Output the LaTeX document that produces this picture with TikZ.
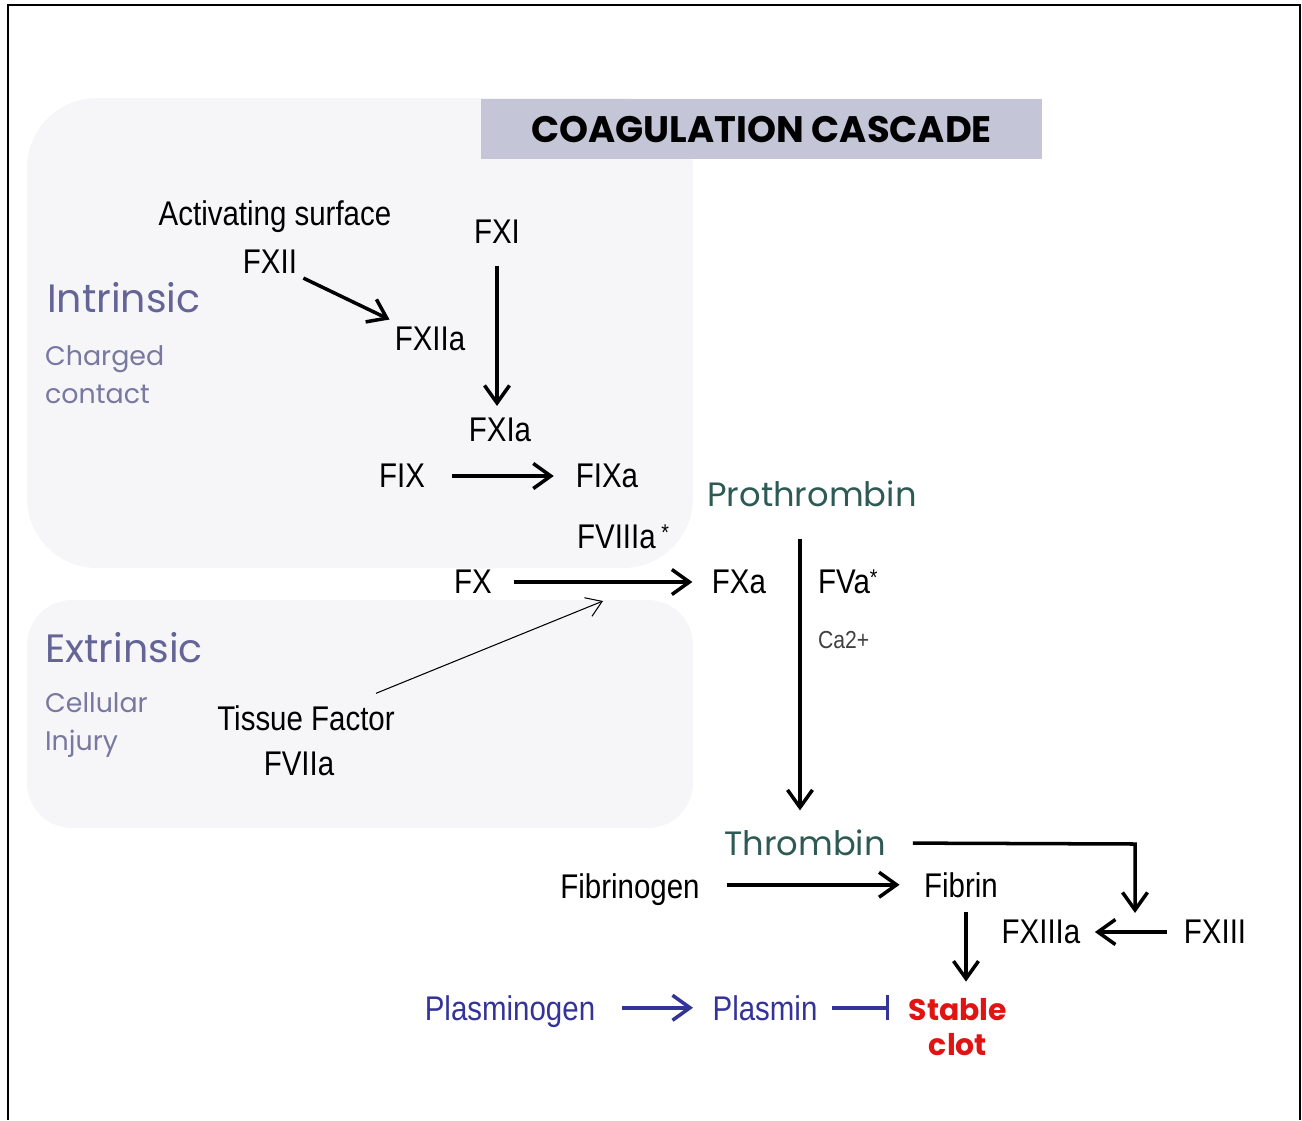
\documentclass[tikz,border=0pt]{standalone}
\usepackage{fontspec}
\setmainfont{Liberation Sans}[FakeStretch=0.86]
\newfontfamily\comicfont{Poppins}
\usetikzlibrary{arrows.meta,positioning}

\definecolor{regionfill}{RGB}{246,246,249}
\definecolor{titlefill}{RGB}{197,197,216}
\definecolor{pathcol}{RGB}{100,100,150}
\definecolor{causecol}{RGB}{120,120,160}
\definecolor{thrombcol}{RGB}{45,90,85}
\definecolor{plasmcol}{RGB}{51,51,153}
\definecolor{clotcol}{RGB}{225,20,20}

\tikzstyle{factor} = [inner sep=1pt, font=\fontsize{19.5}{23}\selectfont]
\tikzstyle{small} = [inner sep=1pt, text=black!75, font=\fontsize{14}{16}\selectfont]
\tikzstyle{pathway} = [inner sep=1pt, anchor=west, text=pathcol, font=\comicfont\fontsize{22.5}{26}\selectfont]
\tikzstyle{cause} = [inner sep=1pt, anchor=west, align=left, text=causecol, font=\comicfont\fontsize{15.3}{21.5}\selectfont]
\tikzstyle{thromb} = [inner sep=1pt, text=thrombcol, font=\comicfont\fontsize{19.2}{23}\selectfont]
\tikzstyle{plasm} = [factor, text=plasmcol]
\tikzstyle{arrow} = [line width=2pt, -{Straight Barb[length=3.5mm, width=5mm]}]
\tikzstyle{thinarrow} = [line width=0.6pt, -{Straight Barb[length=3mm, width=4mm]}]
\tikzstyle{blue_arrow} = [arrow, plasmcol]
\tikzstyle{inhibit} = [line width=2pt, plasmcol, -{Bar[width=5mm]}]
\newcommand{\cofactor}{\raisebox{0.45ex}{\fontsize{13}{13}\selectfont *}}

\begin{document}
\begin{tikzpicture}[x=0.02cm, y=-0.02cm]
\useasboundingbox (0,0) rectangle (1302,1120);
% frame
\draw [line width=1.6pt] (8,1120) -- (8,5) -- (1300,5) -- (1300,1120);

% pathway regions
\fill [regionfill, rounded corners=1.4cm] (27,98) rectangle (693,568);
\fill [regionfill, rounded corners=0.9cm] (27,600) rectangle (693,828);
\node (title) [fill=titlefill, minimum width=11.22cm, minimum height=1.2cm,
  font=\comicfont\bfseries\fontsize{21}{25}\selectfont] at (761.5,129) {COAGULATION CASCADE};

% Intrinsic
\node (intrinsic) [pathway] at (45,298) {Intrinsic};
\node (charged) [cause] at (43,375) {Charged\\contact};
\node (surface) [factor] at (275,217) {Activating surface};
\node (fxii) [factor] at (270,262) {FXII};
\node (fxiia) [factor] at (430,339) {FXIIa};
\node (fxi) [factor] at (497,232) {FXI};
\node (fxia) [factor] at (500,430) {FXIa};
\node (fix) [factor] at (402,476) {FIX};
\node (fixa) [factor] at (607,476) {FIXa};
\node (fviiia) [factor, anchor=west] at (575,537) {FVIIIa\,\cofactor};

\draw [arrow, shorten <=0.1cm, shorten >=0.25cm] (fxii) -- (fxiia);
\draw [arrow, shorten <=0.4cm, shorten >=0.2cm] (fxi) -- (fxi |- fxia.north);
\draw [arrow, shorten <=0.5cm, shorten >=0.4cm] (fix) -- (fixa);

% common pathway
\node (fx) [factor] at (473,582) {FX};
\node (fxa) [factor] at (739,582) {FXa};
\draw [arrow, shorten <=0.4cm, shorten >=0.35cm] (fx) -- (fxa);

% Extrinsic
\node (extrinsic) [pathway] at (43,648) {Extrinsic};
\node (injury) [cause] at (43,725) {Cellular\\Injury};
\node (tf) [factor] at (306,718) {Tissue Factor};
\node (fviia) [factor] at (299,764) {FVIIa};
\coordinate (tfhit) at (603,601);
\draw [thinarrow] ([xshift=1.4cm, yshift=0.2cm]tf.north) -- (tfhit);

% thrombin
\node (prothrombin) [thromb] at (812,494) {Prothrombin};
\node (fva) [factor, anchor=west] at (816,582) {FVa\cofactor};
\node (ca) [small, anchor=west] at (816,640) {Ca2+};
\node (thrombin) [thromb] at (805,843) {Thrombin};
\draw [arrow, shorten <=0.6cm, shorten >=0.35cm] ([xshift=-0.24cm]prothrombin.south) -- ([xshift=-0.24cm]prothrombin.south |- thrombin.north);

% clot formation
\node (fibrinogen) [factor, anchor=base] at (630,898) {Fibrinogen};
\node (fibrin) [factor, anchor=base] at (961,897) {Fibrin};
\node (fxiiia) [factor] at (1041,932) {FXIIIa};
\node (fxiii) [factor] at (1215,932) {FXIII};
\node (clot) [inner sep=1pt, align=center, text=clotcol, font=\comicfont\bfseries\fontsize{17}{19.5}\selectfont] at (958,1027) {Stable\\clot};
\coordinate (corner) at (1135,844);

\draw [arrow, shorten <=0.5cm, shorten >=0.45cm] (fibrinogen.east |- fibrin) -- (fibrin);
\draw [arrow, shorten <=0.5cm] (thrombin.east) -- (corner) -- ([yshift=0.1cm]corner |- fxiiia.north);
\draw [arrow, shorten <=0.3cm, shorten >=0.25cm] (fxiii) -- (fxiiia);
\draw [arrow, shorten <=0.25cm, shorten >=0.3cm] ([xshift=0.1cm]fibrin.south) -- ([xshift=0.1cm]fibrin.south |- clot.north);

% fibrinolysis
\node (plasminogen) [plasm, anchor=base] at (510,1020) {Plasminogen};
\node (plasmin) [plasm, anchor=base] at (765,1020) {Plasmin};
\draw [blue_arrow, shorten <=0.5cm, shorten >=0.35cm] (plasminogen.east |- plasmin) -- (plasmin);
\draw [inhibit, shorten <=0.25cm, shorten >=0.35cm] (plasmin) -- (plasmin -| clot.west);
\end{tikzpicture}
\end{document}
